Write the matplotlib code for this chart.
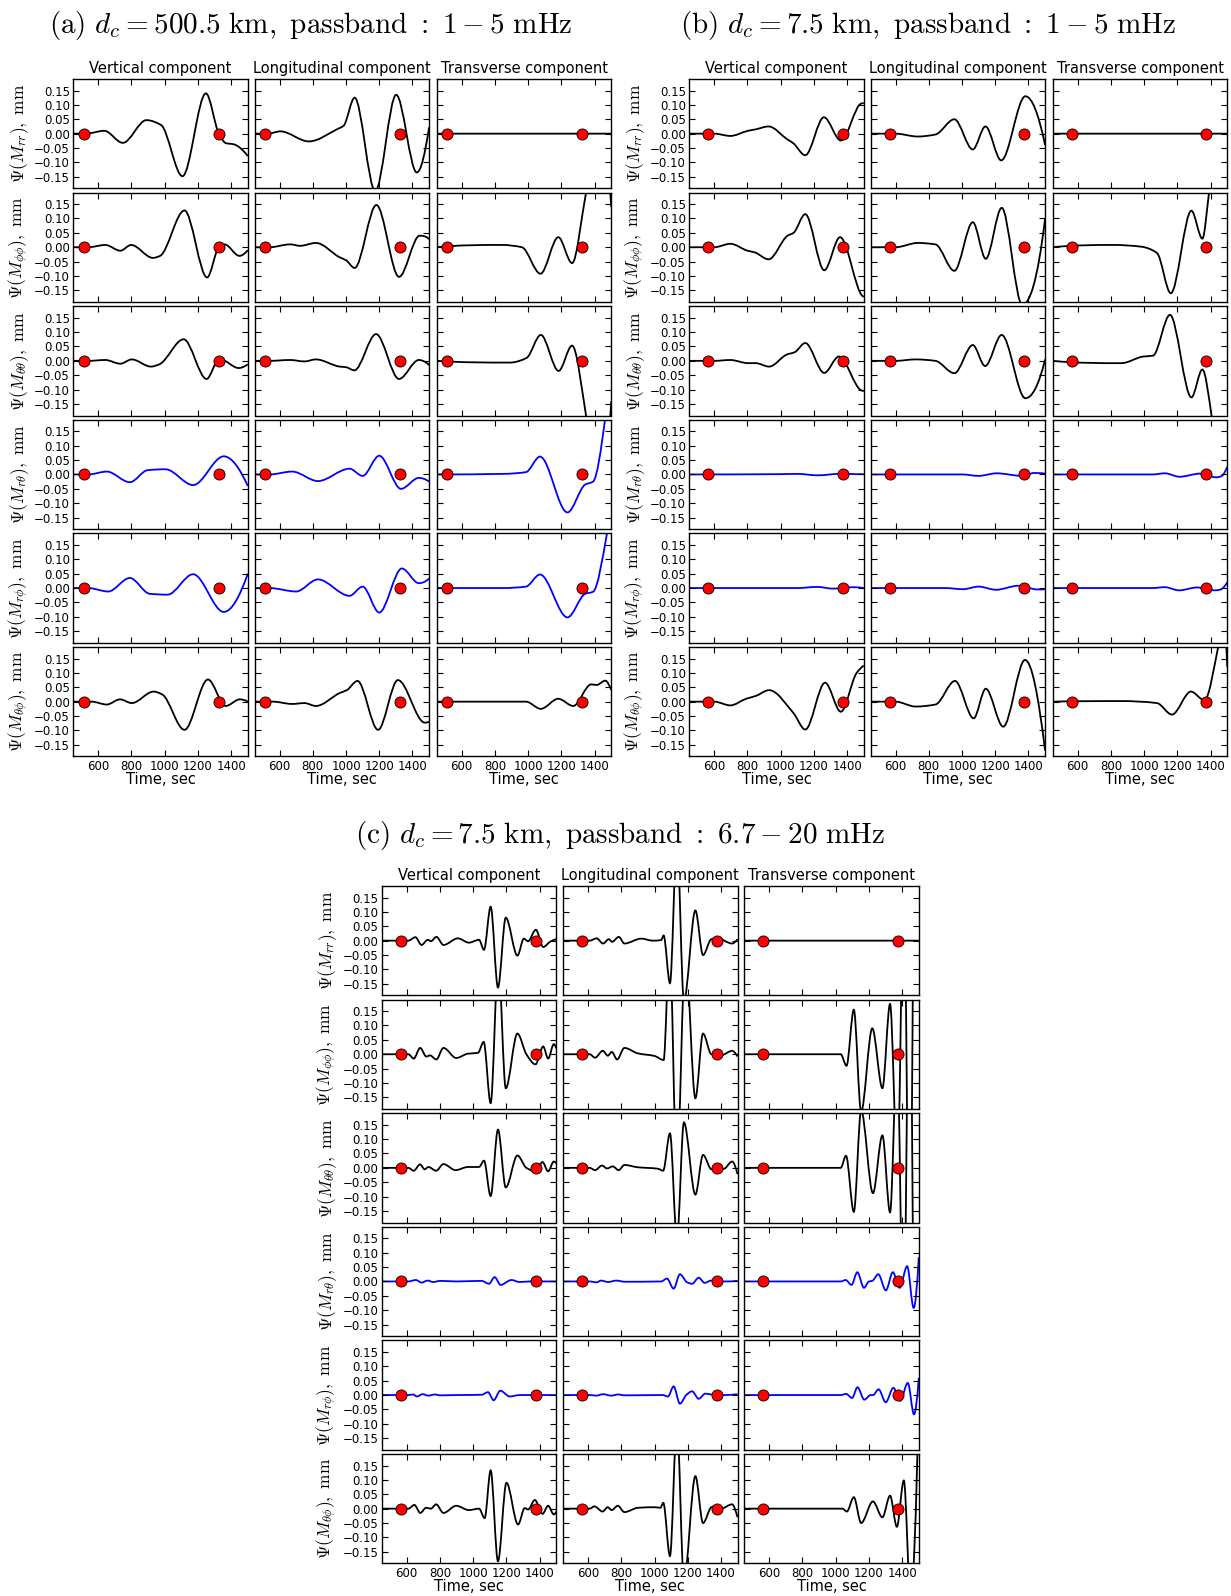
import numpy as np
import matplotlib
matplotlib.use("Agg")
import matplotlib.pyplot as plt
from matplotlib.path import Path
from matplotlib.patches import PathPatch

plt.rcParams['mathtext.fontset'] = 'cm'
plt.rcParams['font.family'] = ['DejaVu Sans']

# ---------------- categories / labels ----------------
COMPONENTS = ['Vertical component', 'Longitudinal component', 'Transverse component']
ROW_SUBS = ['rr', r'\phi\phi', r'\theta\theta', r'r\theta', r'r\phi', r'\theta\phi']
ROW_COLORS = ['k', 'k', 'k', 'b', 'b', 'k']
XTICKS = [600, 800, 1000, 1200, 1400]
XTICK_LABELS = ['600', '800', '1000', '1200', '1400']
YTICKS = [-0.15, -0.10, -0.05, 0.00, 0.05, 0.10, 0.15]
YTICK_LABELS = ['\u22120.15', '\u22120.10', '\u22120.05', '0.00', '0.05', '0.10', '0.15']
XLIM = (450, 1500)
YLIM = (-0.19, 0.19)
TITLES = [r'$\mathrm{(a)}\ d_c = 500.5\ \mathrm{km,\ passband}\ :\ 1 - 5\ \mathrm{mHz}$',
          r'$\mathrm{(b)}\ d_c = 7.5\ \mathrm{km,\ passband}\ :\ 1 - 5\ \mathrm{mHz}$',
          r'$\mathrm{(c)}\ d_c = 7.5\ \mathrm{km,\ passband}\ :\ 6.7 - 20\ \mathrm{mHz}$']
DOTS_A = [512, 1326]
DOTS_B = [564, 1374]
DOTS_C = [564, 1375]

# ---------------- panel (a): (time s, amplitude mm) knots ----------------
a_rr_v = [(450,0),(540,0.001),(636,0.010),(748,-0.032),(890,0.047),(978,0.030),(1107,-0.148),(1248,0.140),(1326,0.0),(1368,-0.033),(1415,-0.037),(1500,-0.078)]
a_rr_l = [(450,0),(530,0.0),(605,0.008),(776,-0.027),(955,0.018),(985,0.027),(1052,0.125),(1176,-0.20),(1302,0.135),(1426,-0.135),(1500,0.022)]
a_rr_t = [(450,0),(1500,0)]
a_pp_v = [(450,0),(540,0.0),(643,0.008),(733,-0.012),(798,0.008),(929,-0.037),(972,-0.030),(1119,0.128),(1255,-0.105),(1326,0.0),(1360,0.010),(1450,-0.030),(1500,-0.010)]
a_pp_l = [(450,0),(540,0.0),(664,0.010),(724,0.005),(819,0.015),(962,-0.035),(1000,-0.045),(1052,-0.072),(1183,0.147),(1319,-0.103),(1443,0.040),(1500,0.028)]
a_pp_t = [(450,0),(843,0.008),(962,0.0),(1074,-0.092),(1181,0.035),(1264,-0.055),(1348,0.19),(1430,0.45),(1500,0.14)]
a_tt_v = [(450,0),(540,0.0),(643,0.003),(733,-0.010),(802,0.005),(917,-0.020),(968,-0.012),(1114,0.075),(1252,-0.063),(1319,0.0),(1338,0.004),(1445,-0.025),(1500,-0.012)]
a_tt_l = [(450,0),(540,0.0),(664,0.003),(750,-0.002),(819,0.005),(962,-0.020),(1000,-0.022),(1050,-0.033),(1181,0.093),(1319,-0.063),(1438,0.003),(1500,-0.015)]
a_tt_t = [(450,0),(890,-0.006),(990,0.010),(1076,0.090),(1183,-0.035),(1264,0.053),(1348,-0.19),(1420,-0.50),(1500,-0.14)]
a_rt_v = [(450,0),(540,0.0),(652,0.010),(790,-0.027),(898,0.015),(1005,0.018),(1171,-0.037),(1355,0.063),(1500,-0.040)]
a_rt_l = [(450,0),(540,0.0),(676,0.010),(831,-0.023),(1021,0.020),(1100,-0.005),(1200,0.065),(1331,-0.050),(1438,-0.012),(1500,-0.025)]
a_rt_t = [(450,0),(850,0.002),(986,0.008),(1071,0.062),(1236,-0.132),(1343,-0.035),(1390,-0.025),(1462,0.19),(1500,0.45)]
a_rp_v = [(450,0),(540,0.0),(660,-0.012),(790,0.035),(910,-0.020),(1017,-0.023),(1171,0.048),(1355,-0.083),(1500,0.050)]
a_rp_l = [(450,0),(540,0.0),(700,-0.012),(831,0.030),(1021,-0.027),(1100,0.005),(1200,-0.085),(1336,0.068),(1438,0.017),(1500,0.033)]
a_rp_t = [(450,0),(850,0.0),(986,0.005),(1071,0.047),(1236,-0.102),(1343,-0.020),(1390,-0.013),(1474,0.19),(1500,0.30)]
a_tp_v = [(450,0),(560,0.0),(652,-0.010),(731,0.008),(802,-0.005),(933,0.035),(985,0.025),(1119,-0.098),(1260,0.077),(1367,-0.015),(1452,0.008),(1500,0.0)]
a_tp_l = [(450,0),(560,0.0),(676,-0.008),(750,-0.005),(819,-0.015),(962,0.030),(1005,0.040),(1069,0.072),(1193,-0.098),(1312,0.075),(1474,-0.073),(1500,-0.070)]
a_tp_t = [(450,0),(986,0.0),(1076,-0.025),(1181,0.010),(1271,-0.015),(1379,0.060),(1412,0.058),(1464,0.073),(1500,0.040)]

# ---------------- panel (b) ----------------
b_rr_v = [(450,0),(600,0.0),(697,-0.008),(804,0.010),(850,0.015),(927,0.025),(1040,-0.020),(1075,-0.033),(1148,-0.075),(1260,0.057),(1362,-0.024),(1486,0.105),(1500,0.106)]
b_rr_l = [(450,0),(600,0.0),(733,-0.010),(840,-0.003),(954,0.050),(1065,-0.055),(1141,0.025),(1236,-0.093),(1381,0.130),(1500,-0.040)]
b_rr_t = [(450,0),(1500,0)]
b_pp_v = [(450,0),(600,0.0),(697,0.012),(800,-0.012),(845,-0.018),(927,-0.042),(1041,0.040),(1077,0.050),(1148,0.115),(1262,-0.080),(1357,0.035),(1493,-0.170),(1500,-0.172)]
b_pp_l = [(450,0),(600,0.0),(733,0.015),(840,0.010),(954,-0.082),(1065,0.087),(1143,-0.040),(1239,0.137),(1362,-0.20),(1500,0.10)]
b_pp_t = [(450,0),(816,0.008),(982,0.002),(1077,-0.020),(1160,-0.160),(1284,0.127),(1350,0.030),(1390,0.19),(1440,0.45),(1500,0.60)]
b_tt_v = [(450,0),(600,0.0),(697,0.003),(804,-0.008),(850,-0.008),(930,-0.020),(1037,0.022),(1084,0.030),(1148,0.062),(1262,-0.042),(1350,0.015),(1486,-0.103),(1500,-0.105)]
b_tt_l = [(450,0),(600,0.0),(721,0.005),(840,0.0),(954,-0.043),(1065,0.055),(1139,-0.018),(1239,0.090),(1381,-0.130),(1500,0.005)]
b_tt_t = [(450,0),(863,-0.008),(994,0.015),(1053,0.018),(1155,0.160),(1284,-0.127),(1350,-0.030),(1405,-0.19),(1450,-0.45),(1500,-0.60)]
b_rt_v = [(450,0),(1000,0.001),(1100,0.002),(1220,-0.003),(1374,0.003),(1450,0.001),(1500,0.001)]
b_rt_l = [(450,0),(1000,0.0),(1100,-0.005),(1208,0.004),(1362,-0.005),(1433,0.005),(1500,0.003)]
b_rt_t = [(450,0),(1050,0.0),(1125,0.004),(1212,-0.008),(1338,0.003),(1433,-0.010),(1465,-0.006),(1500,0.027)]
b_rp_v = [(450,0),(1100,0.0),(1220,0.004),(1315,-0.002),(1433,0.003),(1500,0.0)]
b_rp_l = [(450,0),(900,0.0),(1006,-0.004),(1100,0.005),(1205,-0.006),(1338,0.008),(1457,-0.005),(1500,-0.004)]
b_rp_t = [(450,0),(1050,0.0),(1125,0.003),(1209,-0.008),(1318,0.002),(1424,-0.008),(1460,-0.005),(1500,0.020)]
b_tp_v = [(450,0),(600,0.0),(697,-0.013),(792,0.010),(851,0.020),(930,0.040),(1077,-0.040),(1148,-0.097),(1267,0.066),(1362,-0.035),(1457,0.100),(1500,0.125)]
b_tp_l = [(450,0),(600,0.0),(721,-0.017),(840,-0.010),(958,0.072),(1070,-0.058),(1143,0.045),(1248,-0.087),(1379,0.145),(1500,-0.170)]
b_tp_t = [(450,0),(863,0.002),(1077,-0.005),(1167,-0.045),(1281,0.035),(1362,0.005),(1445,0.19),(1478,0.30),(1500,0.12)]

# ---------------- panel (c) ----------------
c_rr_v = [(450,0),(610,0.0),(652,0.012),(689,-0.015),(727,0.003),(745,-0.002),(779,0.013),(821,-0.015),(908,0.008),(974,-0.007),(1035,0.003),(1065,-0.032),(1105,0.118),(1149,-0.163),(1196,0.080),(1266,-0.052),(1305,0.007),(1330,-0.002),(1377,0.038),(1421,-0.022),(1465,-0.003),(1500,0.005)]
c_rr_l = [(450,0),(610,0.0),(652,0.008),(690,-0.010),(725,0.005),(745,-0.004),(785,0.013),(819,-0.010),(920,0.007),(990,0.0),(1040,0.002),(1055,0.018),(1093,-0.148),(1135,0.35),(1177,-0.21),(1246,0.105),(1292,-0.050),(1342,0.005),(1380,0.008),(1467,-0.010),(1500,0.005)]
c_rr_t = [(450,0),(1500,0)]
c_pp_v = [(450,0),(610,0.0),(642,-0.015),(681,0.022),(718,-0.008),(740,-0.004),(778,-0.018),(821,0.022),(898,-0.013),(968,0.002),(1029,0.005),(1063,0.043),(1105,-0.170),(1151,0.32),(1196,-0.118),(1266,0.072),(1320,0.0),(1375,-0.035),(1421,0.027),(1451,-0.015),(1485,0.035),(1500,0.020)]
c_pp_l = [(450,0),(610,0.0),(642,-0.012),(689,0.012),(719,-0.005),(743,0.008),(775,-0.018),(819,0.022),(900,0.003),(1000,-0.006),(1055,-0.020),(1091,0.38),(1134,-0.40),(1186,0.35),(1246,-0.153),(1292,0.072),(1342,0.0),(1400,-0.004),(1467,0.012),(1500,-0.008)]
c_pp_t = [(450,0),(1030,0.0),(1065,-0.040),(1109,0.155),(1153,-0.20),(1220,0.090),(1281,-0.118),(1327,0.175),(1372,-0.40),(1410,0.60),(1445,-0.80),(1480,1.0),(1500,0.30)]
c_tt_v = [(450,0),(610,0.0),(642,-0.010),(680,0.012),(708,-0.005),(730,0.003),(777,-0.010),(821,0.013),(894,-0.008),(968,0.003),(1035,0.003),(1065,0.025),(1105,-0.098),(1149,0.133),(1196,-0.068),(1266,0.043),(1320,0.0),(1375,-0.012),(1417,0.020),(1451,-0.012),(1485,0.022),(1500,0.015)]
c_tt_l = [(450,0),(610,0.0),(642,-0.008),(684,0.008),(714,-0.002),(749,0.005),(784,-0.008),(819,0.010),(900,0.002),(1020,-0.003),(1052,-0.010),(1093,0.120),(1135,-0.25),(1177,0.158),(1246,-0.093),(1292,0.045),(1342,-0.005),(1380,-0.008),(1420,-0.003),(1467,0.022),(1500,-0.022)]
c_tt_t = [(450,0),(1030,0.0),(1062,0.042),(1109,-0.153),(1153,0.20),(1224,-0.088),(1281,0.113),(1327,-0.155),(1370,0.40),(1408,-0.60),(1445,0.80),(1480,-1.0),(1500,-0.30)]
c_rt_v = [(450,0),(610,0.0),(655,0.005),(690,-0.004),(725,0.003),(760,-0.002),(800,0.002),(900,0.0),(1050,0.002),(1095,-0.008),(1129,0.015),(1165,-0.012),(1230,0.005),(1280,-0.002),(1340,0.0),(1500,0.0)]
c_rt_l = [(450,0),(610,0.0),(650,-0.003),(680,0.003),(720,-0.002),(770,0.003),(820,-0.001),(1040,0.0),(1075,0.010),(1115,-0.025),(1153,0.025),(1196,-0.003),(1226,-0.008),(1266,0.013),(1302,-0.005),(1340,0.003),(1420,0.0),(1500,0.002)]
c_rt_t = [(450,0),(1030,0.0),(1060,0.005),(1095,-0.012),(1130,0.032),(1170,-0.022),(1200,0.0),(1220,0.002),(1256,0.025),(1302,-0.031),(1344,0.032),(1385,-0.022),(1430,0.053),(1469,-0.092),(1500,0.085)]
c_rp_v = [(450,0),(610,0.0),(640,0.002),(660,-0.005),(696,0.003),(730,-0.002),(770,0.002),(800,-0.001),(900,0.0),(1050,0.001),(1089,0.010),(1123,-0.018),(1163,0.015),(1220,-0.005),(1280,0.0),(1500,0.0)]
c_rp_l = [(450,0),(610,0.0),(650,-0.002),(690,0.003),(740,-0.002),(780,0.002),(820,-0.001),(1050,0.0),(1081,-0.005),(1115,0.030),(1153,-0.030),(1191,0.0),(1226,0.013),(1266,-0.013),(1306,0.005),(1340,0.002),(1420,0.0),(1500,0.003)]
c_rp_t = [(450,0),(1030,0.0),(1062,0.004),(1099,-0.010),(1131,0.027),(1172,-0.016),(1210,0.0),(1225,0.0),(1258,0.020),(1301,-0.025),(1347,0.025),(1388,-0.020),(1434,0.042),(1471,-0.067),(1500,0.060)]
c_tp_v = [(450,0),(610,0.0),(646,0.013),(682,-0.015),(716,0.003),(745,0.0),(777,0.015),(821,-0.015),(898,0.010),(974,-0.005),(1035,0.0),(1069,-0.033),(1105,0.133),(1149,-0.183),(1200,0.090),(1270,-0.055),(1310,0.002),(1330,-0.003),(1371,0.030),(1417,-0.018),(1451,0.010),(1485,-0.020),(1500,-0.010)]
c_tp_l = [(450,0),(610,0.0),(638,0.008),(688,-0.010),(718,0.005),(742,-0.005),(779,0.010),(819,-0.012),(900,0.003),(1000,0.005),(1035,0.003),(1053,0.020),(1093,-0.165),(1135,0.30),(1177,-0.25),(1246,0.113),(1292,-0.050),(1342,0.005),(1372,0.010),(1400,0.0),(1467,0.015),(1500,-0.030)]
c_tp_t = [(450,0),(1040,0.0),(1067,-0.010),(1109,0.040),(1153,-0.050),(1224,0.025),(1281,-0.030),(1327,0.045),(1368,-0.063),(1410,0.098),(1450,-0.30),(1500,0.40)]

PANEL_A = [[a_rr_v, a_rr_l, a_rr_t], [a_pp_v, a_pp_l, a_pp_t], [a_tt_v, a_tt_l, a_tt_t],
           [a_rt_v, a_rt_l, a_rt_t], [a_rp_v, a_rp_l, a_rp_t], [a_tp_v, a_tp_l, a_tp_t]]
PANEL_B = [[b_rr_v, b_rr_l, b_rr_t], [b_pp_v, b_pp_l, b_pp_t], [b_tt_v, b_tt_l, b_tt_t],
           [b_rt_v, b_rt_l, b_rt_t], [b_rp_v, b_rp_l, b_rp_t], [b_tp_v, b_tp_l, b_tp_t]]
PANEL_C = [[c_rr_v, c_rr_l, c_rr_t], [c_pp_v, c_pp_l, c_pp_t], [c_tt_v, c_tt_l, c_tt_t],
           [c_rt_v, c_rt_l, c_rt_t], [c_rp_v, c_rp_l, c_rp_t], [c_tp_v, c_tp_l, c_tp_t]]


def smooth_path(pts):
    """Shape-preserving cubic Bezier path through the read knots (data coordinates)."""
    x = np.array([p[0] for p in pts], float)
    y = np.array([p[1] for p in pts], float)
    n = len(x)
    h = np.diff(x)
    d = np.diff(y) / h
    m = np.zeros(n)
    if n == 2:
        m[:] = d[0]
    else:
        for k in range(1, n - 1):
            if d[k - 1] * d[k] > 0:
                w1 = 2 * h[k] + h[k - 1]
                w2 = h[k] + 2 * h[k - 1]
                m[k] = (w1 + w2) / (w1 / d[k - 1] + w2 / d[k])
        for (i, a, b, ha, hb) in [(0, d[0], d[1], h[0], h[1]), (n - 1, d[-1], d[-2], h[-1], h[-2])]:
            e = ((2 * ha + hb) * a - ha * b) / (ha + hb)
            if np.sign(e) != np.sign(a):
                e = 0.0
            elif np.sign(a) != np.sign(b) and abs(e) > abs(3 * a):
                e = 3 * a
            m[i] = e
    verts = [(x[0], y[0])]
    codes = [Path.MOVETO]
    for i in range(n - 1):
        hh = h[i] / 3.0
        verts += [(x[i] + hh, y[i] + m[i] * hh), (x[i + 1] - hh, y[i + 1] - m[i + 1] * hh), (x[i + 1], y[i + 1])]
        codes += [Path.CURVE4] * 3
    return Path(verts, codes)


W, H = 1231.0, 1596.0
AX_W, AX_H = 174.5, 109.3
PITCH_Y = 113.6

fig = plt.figure(figsize=(W / 100, H / 100), dpi=100)

panels = [
    (TITLES[0], (311, 25.5), [73.3, 254.6, 436.8], 79.0, DOTS_A, PANEL_A),
    (TITLES[1], (928, 25.5), [689.3, 870.6, 1052.8], 79.0, DOTS_B, PANEL_B),
    (TITLES[2], (620, 836.0), [381.8, 563.1, 744.3], 886.0, DOTS_C, PANEL_C),
]

for title, (tx, ty), lefts, top0, dots, grid in panels:
    fig.text(tx / W, 1 - ty / H, title, ha='center', va='center', fontsize=21)
    for r in range(6):
        for c in range(3):
            top = top0 + r * PITCH_Y
            ax = fig.add_axes([lefts[c] / W, 1 - (top + AX_H) / H, AX_W / W, AX_H / H])
            ax.set_xlim(*XLIM)
            ax.set_ylim(*YLIM)
            patch = PathPatch(smooth_path(grid[r][c]), fill=False, edgecolor=ROW_COLORS[r], lw=1.3)
            ax.add_patch(patch)
            ax.plot(dots, [0] * len(dots), 'o', color='red', mec='black', mew=0.6, ms=8, zorder=5)
            ax.set_xticks(XTICKS)
            ax.set_yticks(YTICKS)
            ax.tick_params(direction='in', length=4, width=0.8, top=True, right=True,
                           labelsize=8.5, pad=2.5)
            if r == 5:
                ax.set_xticklabels(XTICK_LABELS)
                ax.set_xlabel('Time, sec', fontsize=10.5, labelpad=-0.5)
            else:
                ax.set_xticklabels([])
            if c == 0:
                ax.set_yticklabels(YTICK_LABELS)
                ax.set_ylabel(r'$\Psi(M_{%s}),\ \mathrm{mm}$' % ROW_SUBS[r], fontsize=12.5)
                ax.yaxis.set_label_coords(-0.245, 0.5)
            else:
                ax.set_yticklabels([])
            if r == 0:
                ax.set_title(COMPONENTS[c], fontsize=10.5, pad=4)
            for sp in ax.spines.values():
                sp.set_linewidth(1.0)

fig.savefig('out.png', dpi=100)
